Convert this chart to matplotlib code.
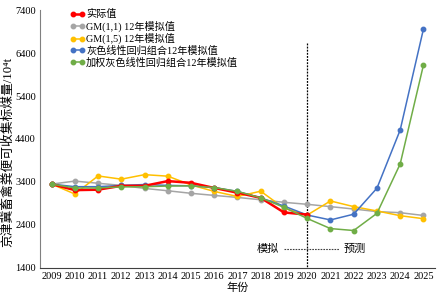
import numpy as np
import matplotlib
matplotlib.use('Agg')
import matplotlib.pyplot as plt

plt.rcParams['font.family'] = ['Liberation Serif', 'Noto Sans CJK SC']

years = list(range(2009, 2026))

actual = [3350, 3210, 3220, 3310, 3310, 3420, 3380, 3260, 3150, 3030, 2690, 2640]
gm11 = [3350, 3420, 3370, 3320, 3250, 3195, 3136, 3087, 3040, 2985, 2926, 2880,
        2826, 2770, 2710, 2685, 2620]
gm15 = [3350, 3120, 3540, 3465, 3570, 3535, 3330, 3180, 3062, 3185, 2790, 2630,
        2958, 2826, 2725, 2615, 2545]
glr = [3350, 3290, 3290, 3320, 3340, 3320, 3310, 3270, 3180, 3030, 2840, 2630,
       2516, 2650, 3255, 4610, 6958]
wglr = [3350, 3260, 3260, 3285, 3290, 3305, 3310, 3270, 3180, 3030, 2810, 2550,
        2315, 2270, 2670, 3820, 6120]

labels = ['实际值', 'GM(1,1) 12年模拟值', 'GM(1,5) 12年模拟值',
          '灰色线性回归组合12年模拟值', '加权灰色线性回归组合12年模拟值']

fig = plt.figure(figsize=(4.39, 2.97), dpi=100)
ax = fig.add_axes([0.091, 0.098, 0.90, 0.868])

ms = 3.2
ax.plot(years[:len(actual)], actual, color='#FF0000', lw=1.8, marker='o', ms=ms,
        label=labels[0], zorder=5)
ax.plot(years, gm11, color='#A5A5A5', lw=1.1, marker='o', ms=ms, label=labels[1], zorder=2)
ax.plot(years, gm15, color='#FFC000', lw=1.1, marker='o', ms=ms, label=labels[2], zorder=3)
ax.plot(years, glr, color='#4472C4', lw=1.1, marker='o', ms=ms, label=labels[3], zorder=4)
ax.plot(years, wglr, color='#70AD47', lw=1.1, marker='o', ms=ms, label=labels[4], zorder=6)

# split line between simulation and forecast
ax.plot([2020, 2020], [6630, 1400], color='black', lw=0.9, ls=(0, (1.5, 1)), zorder=1)
ax.plot([2019.0, 2021.35], [1830, 1830], color='#404040', lw=0.8, ls=(0, (1.5, 1)), zorder=1)
ax.text(2018.8, 1830, '模拟', ha='right', va='center', fontsize=8)
ax.text(2021.55, 1830, '预测', ha='left', va='center', fontsize=8)

ax.set_xlim(2008.5, 2025.5)
ax.set_ylim(1400, 7400)
ax.set_xticks(years)
ax.set_xticklabels([str(y) for y in years], fontsize=7.5)
ax.set_yticks(np.arange(1400, 7401, 1000))
ax.tick_params(axis='y', labelsize=7.5, length=0, pad=3)
ax.tick_params(axis='x', length=0, pad=3)

for s in ['top', 'right']:
    ax.spines[s].set_visible(False)
ax.spines['left'].set_color('#808080')
ax.spines['bottom'].set_color('#404040')

ax.set_xlabel('年份', fontsize=8, labelpad=1)
ax.set_ylabel('京津冀畜禽粪便可收集标煤量/10⁴t', fontsize=9.2)
ax.yaxis.set_label_coords(-0.066, 0.45)

ax.legend(loc='upper left', bbox_to_anchor=(0.058, 1.03), frameon=False, fontsize=7.3,
          handlelength=1.5, handletextpad=0.1, labelspacing=0.12, numpoints=2,
          borderpad=0.2)

plt.savefig('out.png', dpi=100)
